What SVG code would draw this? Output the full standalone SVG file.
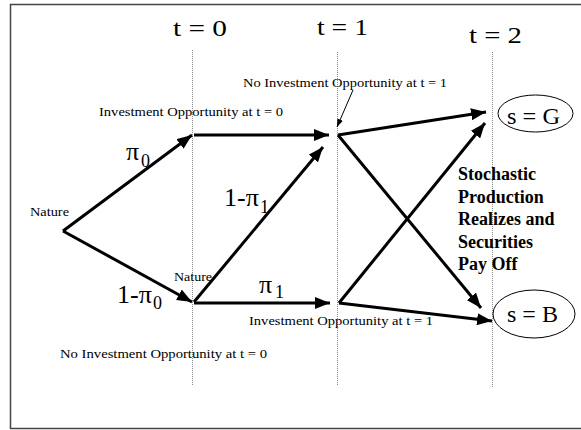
<svg xmlns="http://www.w3.org/2000/svg" width="581" height="430" viewBox="0 0 581 430">
<defs>
<marker id="ah" markerUnits="userSpaceOnUse" markerWidth="16" markerHeight="12" refX="15" refY="6" orient="auto">
<path d="M0,0 L15,6 L0,12 Z" fill="#000"/>
</marker>
<marker id="ahs" markerUnits="userSpaceOnUse" markerWidth="8" markerHeight="6" refX="8" refY="3" orient="auto">
<path d="M0,0 L8,3 L0,6 Z" fill="#000"/>
</marker>
</defs>
<style>
.arr{stroke:#000;stroke-width:3;fill:none;marker-end:url(#ah)}
.dot{stroke:#888;stroke-width:1;stroke-dasharray:1,1;fill:none}
.ell{fill:none;stroke:#000;stroke-width:1}
</style>
<rect x="10.5" y="4.5" width="620" height="424" fill="none" stroke="#444" stroke-width="1.5"/>
<g id="timelines">
<line class="dot" x1="192.5" y1="50" x2="192.5" y2="385"/>
<line class="dot" x1="337.5" y1="52" x2="337.5" y2="385"/>
<line class="dot" x1="492.5" y1="52" x2="492.5" y2="388"/>
<text font-family="Liberation Serif" font-size="24" x="173" y="36" textLength="54" lengthAdjust="spacingAndGlyphs">t = 0</text>
<text font-family="Liberation Serif" font-size="24" x="317" y="35" textLength="51" lengthAdjust="spacingAndGlyphs">t = 1</text>
<text font-family="Liberation Serif" font-size="24" x="469" y="43" textLength="53" lengthAdjust="spacingAndGlyphs">t = 2</text>
</g>
<g id="connectors">
<line class="arr" x1="63" y1="231" x2="192" y2="135"/>
<line class="arr" x1="63" y1="231" x2="192" y2="302"/>
<line class="arr" x1="194" y1="135" x2="329" y2="135"/>
<line class="arr" x1="194" y1="303" x2="330" y2="303"/>
<line class="arr" x1="194" y1="302" x2="323" y2="147"/>
<line class="arr" x1="338" y1="135" x2="486" y2="112"/>
<line class="arr" x1="338" y1="135" x2="481" y2="308"/>
<line class="arr" x1="339" y1="303" x2="485" y2="123"/>
<line class="arr" x1="339" y1="303" x2="492" y2="321"/>
<line x1="353" y1="90" x2="337" y2="127" stroke="#000" stroke-width="1" marker-end="url(#ahs)"/>
</g>
<g id="nature">
<text font-family="Liberation Serif" font-size="12" x="30" y="216" textLength="39" lengthAdjust="spacingAndGlyphs">Nature</text>
</g>
<g id="nature2">
<text font-family="Liberation Serif" font-size="12" x="174" y="281" textLength="38" lengthAdjust="spacingAndGlyphs">Nature</text>
</g>
<g id="labels">
<text font-family="Liberation Serif" font-size="12" x="243" y="87" textLength="204" lengthAdjust="spacingAndGlyphs">No Investment Opportunity at t = 1</text>
<text font-family="Liberation Serif" font-size="12" x="99" y="116" textLength="184" lengthAdjust="spacingAndGlyphs">Investment Opportunity at t = 0</text>
<text font-family="Liberation Serif" font-size="12" x="249" y="325" textLength="184" lengthAdjust="spacingAndGlyphs">Investment Opportunity at t = 1</text>
<text font-family="Liberation Serif" font-size="12" x="60" y="358" textLength="207" lengthAdjust="spacingAndGlyphs">No Investment Opportunity at t = 0</text>
<text font-family="Liberation Serif" font-size="26" x="126" y="160">π<tspan font-size="18" x="141" y="167">0</tspan></text>
<text font-family="Liberation Serif" font-size="26" x="224" y="206">1-π<tspan font-size="18" x="260" y="213">1</tspan></text>
<text font-family="Liberation Serif" font-size="26" x="117" y="303">1-π<tspan font-size="18" x="153" y="309">0</tspan></text>
<text font-family="Liberation Serif" font-size="26" x="259" y="293">π<tspan font-size="18" x="275" y="298">1</tspan></text>
<text font-family="Liberation Serif" font-size="18" font-weight="bold" x="458" y="180">Stochastic</text>
<text font-family="Liberation Serif" font-size="18" font-weight="bold" x="458" y="203">Production</text>
<text font-family="Liberation Serif" font-size="18" font-weight="bold" x="458" y="225">Realizes and</text>
<text font-family="Liberation Serif" font-size="18" font-weight="bold" x="458" y="248">Securities</text>
<text font-family="Liberation Serif" font-size="18" font-weight="bold" x="458" y="270">Pay Off</text>
</g>
<g id="stateG">
<ellipse class="ell" cx="535.5" cy="113.5" rx="37.5" ry="18.5"/>
<text font-family="Liberation Serif" font-size="24" x="507" y="124" textLength="53" lengthAdjust="spacingAndGlyphs">s = G</text>
</g>
<g id="stateB">
<ellipse class="ell" cx="534" cy="314" rx="41" ry="24"/>
<text font-family="Liberation Serif" font-size="24" x="507" y="322" textLength="51" lengthAdjust="spacingAndGlyphs">s = B</text>
</g>
</svg>
